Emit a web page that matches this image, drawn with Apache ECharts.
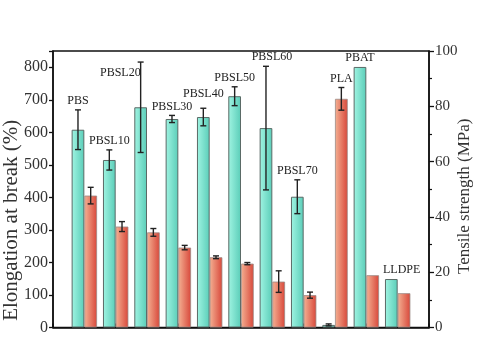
<!DOCTYPE html>
<html><head><meta charset="utf-8">
<script src="https://cdn.jsdelivr.net/npm/echarts@6/dist/echarts.min.js"></script>
<style>html,body{margin:0;padding:0;background:#fff}#c{width:496px;height:337px}</style>
</head><body><div id="c"></div>
<script>
var categories = ['PBS','PBSL10','PBSL20','PBSL30','PBSL40','PBSL50','PBSL60','PBSL70','PLA','PBAT','LLDPE'];
var elongation = [608, 515, 677, 641, 647, 711, 613, 402, 8, 801, 149];
var elongationErr = [61, 31, 139, 11, 27, 29, 190, 52, 3, 0, 0];
var tensile = [47.7, 36.5, 34.4, 28.9, 25.4, 23.1, 16.6, 11.7, 82.7, 18.9, 12.4];
var tensileErr = [3.0, 1.8, 1.4, 0.8, 0.5, 0.4, 3.9, 1.1, 4.1, 0, 0];
var leftTicks = [0,100,200,300,400,500,600,700,800];
var rightTicks = [0,20,40,60,80,100];

var FONT = 'Liberation Serif';
var BW = 12.7;
var axisCats = [''].concat(categories).concat(['']);

function errData(vals, errs){
  return vals.map(function(v,i){ return [i+1, v, errs[i]]; }).filter(function(d){return d[2]>0;});
}
function errRender(side){
  return function(params, api){
    var x = api.value(0), v = api.value(1), e = api.value(2);
    var top = api.coord([x, v+e]), bot = api.coord([x, v-e]);
    var cx = top[0] + side*BW/2;
    var cap = 3;
    var st = {stroke:'#222', lineWidth:1.4};
    return {type:'group', children:[
      {type:'line', shape:{x1:cx,y1:top[1],x2:cx,y2:bot[1]}, style:st},
      {type:'line', shape:{x1:cx-cap,y1:top[1],x2:cx+cap,y2:top[1]}, style:st},
      {type:'line', shape:{x1:cx-cap,y1:bot[1],x2:cx+cap,y2:bot[1]}, style:st}
    ]};
  };
}
// label placement rules (layout, not data)
var labelRule = {
  'PBSL20': {mode:'left', dx:3},
  'PBSL40': {dy:-5},
  'PBSL60': {dx:6},
  'PLA': {mode:'red'},
  'LLDPE': {mode:'group', dx:4}
};
var chart = echarts.init(document.getElementById('c'));
chart.setOption({
  backgroundColor:'#fff',
  animation:false,
  grid:{left:53, right:67, top:51, bottom:9.5, containLabel:false, outerBoundsMode:'none',
        show:true, borderColor:'#111', borderWidth:1.5, backgroundColor:'transparent'},
  xAxis:{type:'category', data:axisCats, boundaryGap:false,
    axisLine:{lineStyle:{color:'#111', width:1.5}},
    axisTick:{inside:true, length:4, lineStyle:{color:'#111', width:1.5}},
    axisLabel:{show:false}, splitLine:{show:false}},
  yAxis:[
    {type:'value', min:0, max:850, interval:100, position:'left',
     name:'Elongation at break (%)', nameLocation:'middle', nameGap:31, nameMoveOverlap:false,
     nameTextStyle:{fontFamily:FONT, fontSize:21, color:'#333', padding:[0,62,0,0]},
     axisLine:{show:true, lineStyle:{color:'#111', width:1.5}},
     axisTick:{show:true, length:4, lineStyle:{color:'#111', width:1.3}},
     axisLabel:{fontFamily:FONT, fontSize:16, color:'#333', margin:5,
       formatter:function(v){ return leftTicks.indexOf(v)>=0 ? String(v) : ''; }},
     splitLine:{show:false}},
    {type:'value', min:0, max:100, interval:20, position:'right',
     name:'Tensile strength (MPa)', nameLocation:'middle', nameGap:27, nameMoveOverlap:false,
     nameTextStyle:{fontFamily:FONT, fontSize:17, color:'#333', padding:[0,14,0,0]},
     axisLine:{show:true, lineStyle:{color:'#111', width:1.5}},
     axisTick:{show:true, length:5, lineStyle:{color:'#111', width:1.3}},
     minorTick:{show:true, splitNumber:2, length:3, lineStyle:{color:'#111', width:1.2}},
     axisLabel:{fontFamily:FONT, fontSize:15, color:'#333', margin:6,
       formatter:function(v){ return rightTicks.indexOf(v)>=0 ? String(v) : ''; }},
     splitLine:{show:false}}
  ],
  series:[
    {type:'bar', yAxisIndex:0, barWidth:BW, barGap:'0%',
     data:[null].concat(elongation).concat([null]),
     itemStyle:{borderColor:'#5a6a66', borderWidth:1,
       color:new echarts.graphic.LinearGradient(0,0,1,0,[{offset:0,color:'#a0f4e2'},{offset:1,color:'#5acdb8'}])}},
    {type:'bar', yAxisIndex:1, barWidth:BW, barGap:'0%',
     data:[null].concat(tensile).concat([null]),
     itemStyle:{borderColor:'#9a8a86', borderWidth:0.8,
       color:new echarts.graphic.LinearGradient(0,0,1,0,[{offset:0,color:'#f4b193'},{offset:1,color:'#d8473a'}])}},
    {type:'custom', yAxisIndex:0, data:errData(elongation, elongationErr), renderItem:errRender(-1), z:5},
    {type:'custom', yAxisIndex:1, data:errData(tensile, tensileErr), renderItem:errRender(1), z:5},
    {type:'custom', yAxisIndex:0, z:6,
     data:categories.map(function(c,i){ return [i+1, elongation[i]]; }),
     renderItem:function(params, api){
       var i = params.dataIndex, x = i+1, name = categories[i];
       var r = labelRule[name] || {};
       var pTeal = api.coord([x, elongation[i]+elongationErr[i]]);
       var yRed = chart.convertToPixel({yAxisIndex:1}, tensile[i]+tensileErr[i]);
       var cx = pTeal[0];
       var tealX = cx - BW/2, redX = cx + BW/2;
       var top = Math.min(pTeal[1], yRed);
       var tx, ty, align='center', va='bottom';
       if (r.mode==='left'){ tx = tealX - 3; ty = pTeal[1] + 11; align='right'; va='middle'; }
       else if (r.mode==='red'){ tx = redX; ty = yRed - 3; }
       else if (r.mode==='group'){ tx = cx; ty = top - 3; }
       else { tx = tealX; ty = top - 3; }
       tx += (r.dx||0); ty += (r.dy||0);
       return {type:'text', style:{text:name, x:tx, y:ty, align:align, verticalAlign:va,
         font:'12px "Liberation Serif"', fill:'#222'}};
     }}
  ]
});
</script></body></html>
